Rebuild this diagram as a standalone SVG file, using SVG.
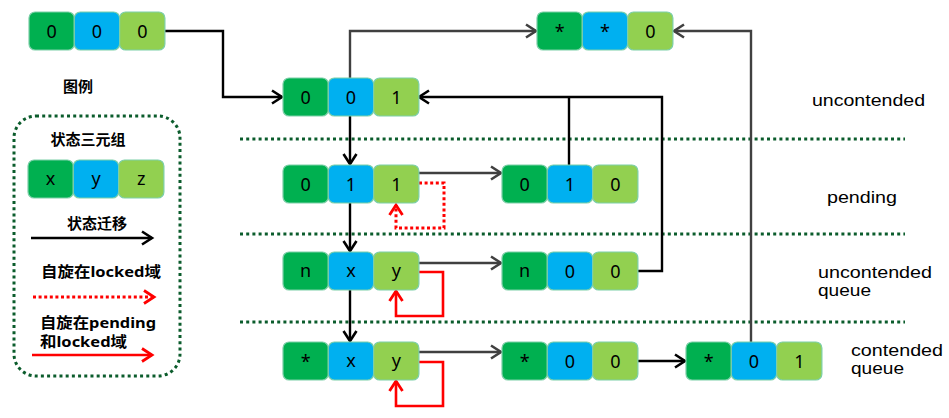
<svg xmlns="http://www.w3.org/2000/svg" width="949" height="418" viewBox="0 0 949 418">
<style>
.c1{fill:#00b050;stroke:#7ccfa8;stroke-width:1.2}
.c2{fill:#00b0f0;stroke:#7ccfa8;stroke-width:1.2}
.c3{fill:#92d050;stroke:#7ccfa8;stroke-width:1.2}
.t{font-family:"Noto Sans","DejaVu Sans",sans-serif;font-size:18px;fill:#000;text-anchor:middle}
.lbl{font-family:"Liberation Sans",Arial,sans-serif;font-size:16px;fill:#000}
.cjk{font-family:"Noto Sans","Noto Sans CJK SC",sans-serif;font-size:15px;font-weight:bold;fill:#000}
.sep{stroke:#0b5c2c;stroke-width:3;stroke-dasharray:3 3.2;fill:none}
.blk{stroke:#000;stroke-width:2.4;fill:none}
.gry{stroke:#404040;stroke-width:2.4;fill:none}
.red{stroke:#ff0000;stroke-width:2.6;fill:none}
.redd{stroke:#ff0000;stroke-width:3;stroke-dasharray:3 2.6;fill:none}
</style>
<defs>
<marker id="ab" markerUnits="userSpaceOnUse" markerWidth="14" markerHeight="16" refX="11" refY="7" orient="auto" overflow="visible">
<path d="M1,0.5 L11,7 L1,13.5" fill="none" stroke="#000" stroke-width="2.6"/>
</marker>
<marker id="ag" markerUnits="userSpaceOnUse" markerWidth="14" markerHeight="16" refX="11" refY="7" orient="auto" overflow="visible">
<path d="M1,0.5 L11,7 L1,13.5" fill="none" stroke="#404040" stroke-width="2.6"/>
</marker>
<marker id="ar" markerUnits="userSpaceOnUse" markerWidth="14" markerHeight="16" refX="11" refY="7" orient="auto" overflow="visible">
<path d="M1,0.5 L11,7 L1,13.5" fill="none" stroke="#ff0000" stroke-width="2.8"/>
</marker>
</defs>
<rect width="949" height="418" fill="#fff"/>

<g id="separators">
<line class="sep" x1="240" y1="139" x2="905" y2="139"/>
<line class="sep" x1="240" y1="234" x2="905" y2="234"/>
<line class="sep" x1="240" y1="322" x2="905" y2="322"/>
</g>

<g id="legend">
<text class="cjk" x="78" y="92" text-anchor="middle">图例</text>
<rect x="14" y="116" width="166" height="260" rx="22" fill="none" class="sep"/>
<text class="cjk" x="88" y="145" text-anchor="middle">状态三元组</text>
<rect class="c1" x="28" y="160" width="45.3" height="38" rx="6"/>
<rect class="c2" x="73.3" y="160" width="45.3" height="38" rx="6"/>
<rect class="c3" x="118.6" y="160" width="45.3" height="38" rx="6"/>
<text class="t" x="50.6" y="185">x</text>
<text class="t" x="96" y="185">y</text>
<text class="t" x="141.3" y="185">z</text>
<text class="cjk" x="97" y="229" text-anchor="middle">状态迁移</text>
<path class="blk" d="M31,238 H152" marker-end="url(#ab)"/>
<text class="cjk" x="41" y="277" textLength="120" lengthAdjust="spacingAndGlyphs">自旋在locked域</text>
<path class="redd" d="M33,297 H154" marker-end="url(#ar)"/>
<text class="cjk" x="40" y="328" textLength="116" lengthAdjust="spacingAndGlyphs">自旋在pending</text>
<text class="cjk" x="40" y="347" textLength="87" lengthAdjust="spacingAndGlyphs">和locked域</text>
<path class="red" d="M32,355 H152" marker-end="url(#ar)"/>
</g>

<g id="connectors">
<path class="blk" d="M165,31 H223 V97 H282" marker-end="url(#ab)"/>
<path class="gry" d="M350,78 V31 H536" marker-end="url(#ag)"/>
<path class="blk" d="M350,116 V164" marker-end="url(#ab)"/>
<path class="blk" d="M350,203 V251" marker-end="url(#ab)"/>
<path class="blk" d="M350,290 V341" marker-end="url(#ab)"/>
<path class="gry" d="M418,173 H501" marker-end="url(#ag)"/>
<path class="gry" d="M418,263 H501" marker-end="url(#ag)"/>
<path class="gry" d="M418,352 H501" marker-end="url(#ag)"/>
<path class="blk" d="M638,361 H685" marker-end="url(#ab)"/>
<path class="blk" d="M569,165 V97"/>
<path class="blk" d="M638,271 H662 V97 H419" marker-end="url(#ab)"/>
<path class="gry" d="M751,342 V31 H674" marker-end="url(#ag)"/>
<path class="redd" d="M419,183 H444 V228 H396 V205" marker-end="url(#ar)"/>
<path class="red" d="M419,272 H443 V316 H396 V291" marker-end="url(#ar)"/>
<path class="red" d="M419,362 H443 V406 H396 V381" marker-end="url(#ar)"/>
</g>

<g id="n000">
<rect class="c1" x="29" y="12" width="45.3" height="38" rx="6"/><rect class="c2" x="74.3" y="12" width="45.3" height="38" rx="6"/><rect class="c3" x="119.6" y="12" width="45.3" height="38" rx="6"/>
<text class="t" x="51.6" y="37.5">0</text><text class="t" x="97" y="37.5">0</text><text class="t" x="142.3" y="37.5">0</text>
</g>
<g id="n001">
<rect class="c1" x="283" y="78" width="45.3" height="38" rx="6"/><rect class="c2" x="328.3" y="78" width="45.3" height="38" rx="6"/><rect class="c3" x="373.6" y="78" width="45.3" height="38" rx="6"/>
<text class="t" x="305.6" y="103.5">0</text><text class="t" x="351" y="103.5">0</text><text class="t" x="396.3" y="103.5">1</text>
</g>
<g id="nss0">
<rect class="c1" x="537" y="12" width="45.3" height="38" rx="6"/><rect class="c2" x="582.3" y="12" width="45.3" height="38" rx="6"/><rect class="c3" x="627.6" y="12" width="45.3" height="38" rx="6"/>
<text class="t" x="559.6" y="37.5">*</text><text class="t" x="605" y="37.5">*</text><text class="t" x="650.3" y="37.5">0</text>
</g>
<g id="n011">
<rect class="c1" x="283" y="165" width="45.3" height="38" rx="6"/><rect class="c2" x="328.3" y="165" width="45.3" height="38" rx="6"/><rect class="c3" x="373.6" y="165" width="45.3" height="38" rx="6"/>
<text class="t" x="305.6" y="190.5">0</text><text class="t" x="351" y="190.5">1</text><text class="t" x="396.3" y="190.5">1</text>
</g>
<g id="n010">
<rect class="c1" x="502" y="165" width="45.3" height="38" rx="6"/><rect class="c2" x="547.3" y="165" width="45.3" height="38" rx="6"/><rect class="c3" x="592.6" y="165" width="45.3" height="38" rx="6"/>
<text class="t" x="524.6" y="190.5">0</text><text class="t" x="570" y="190.5">1</text><text class="t" x="615.3" y="190.5">0</text>
</g>
<g id="nnxy">
<rect class="c1" x="283" y="252" width="45.3" height="38" rx="6"/><rect class="c2" x="328.3" y="252" width="45.3" height="38" rx="6"/><rect class="c3" x="373.6" y="252" width="45.3" height="38" rx="6"/>
<text class="t" x="305.6" y="277">n</text><text class="t" x="351" y="277">x</text><text class="t" x="396.3" y="277">y</text>
</g>
<g id="nn00">
<rect class="c1" x="502" y="252" width="45.3" height="38" rx="6"/><rect class="c2" x="547.3" y="252" width="45.3" height="38" rx="6"/><rect class="c3" x="592.6" y="252" width="45.3" height="38" rx="6"/>
<text class="t" x="524.6" y="277">n</text><text class="t" x="570" y="277.5">0</text><text class="t" x="615.3" y="277.5">0</text>
</g>
<g id="nsxy">
<rect class="c1" x="283" y="342" width="45.3" height="38" rx="6"/><rect class="c2" x="328.3" y="342" width="45.3" height="38" rx="6"/><rect class="c3" x="373.6" y="342" width="45.3" height="38" rx="6"/>
<text class="t" x="305.6" y="367.5">*</text><text class="t" x="351" y="367">x</text><text class="t" x="396.3" y="367">y</text>
</g>
<g id="ns00">
<rect class="c1" x="502" y="342" width="45.3" height="38" rx="6"/><rect class="c2" x="547.3" y="342" width="45.3" height="38" rx="6"/><rect class="c3" x="592.6" y="342" width="45.3" height="38" rx="6"/>
<text class="t" x="524.6" y="367.5">*</text><text class="t" x="570" y="367.5">0</text><text class="t" x="615.3" y="367.5">0</text>
</g>
<g id="ns01">
<rect class="c1" x="686" y="342" width="45.3" height="38" rx="6"/><rect class="c2" x="731.3" y="342" width="45.3" height="38" rx="6"/><rect class="c3" x="776.6" y="342" width="45.3" height="38" rx="6"/>
<text class="t" x="708.6" y="367.5">*</text><text class="t" x="754" y="367.5">0</text><text class="t" x="799.3" y="367.5">1</text>
</g>

<g id="labels">
<text class="lbl" x="812" y="106" textLength="113" lengthAdjust="spacingAndGlyphs">uncontended</text>
<text class="lbl" x="827" y="203" textLength="70" lengthAdjust="spacingAndGlyphs">pending</text>
<text class="lbl" x="818" y="278" textLength="114" lengthAdjust="spacingAndGlyphs">uncontended</text>
<text class="lbl" x="818" y="296" textLength="53" lengthAdjust="spacingAndGlyphs">queue</text>
<text class="lbl" x="851" y="356" textLength="92" lengthAdjust="spacingAndGlyphs">contended</text>
<text class="lbl" x="851" y="374" textLength="53" lengthAdjust="spacingAndGlyphs">queue</text>
</g>
</svg>
